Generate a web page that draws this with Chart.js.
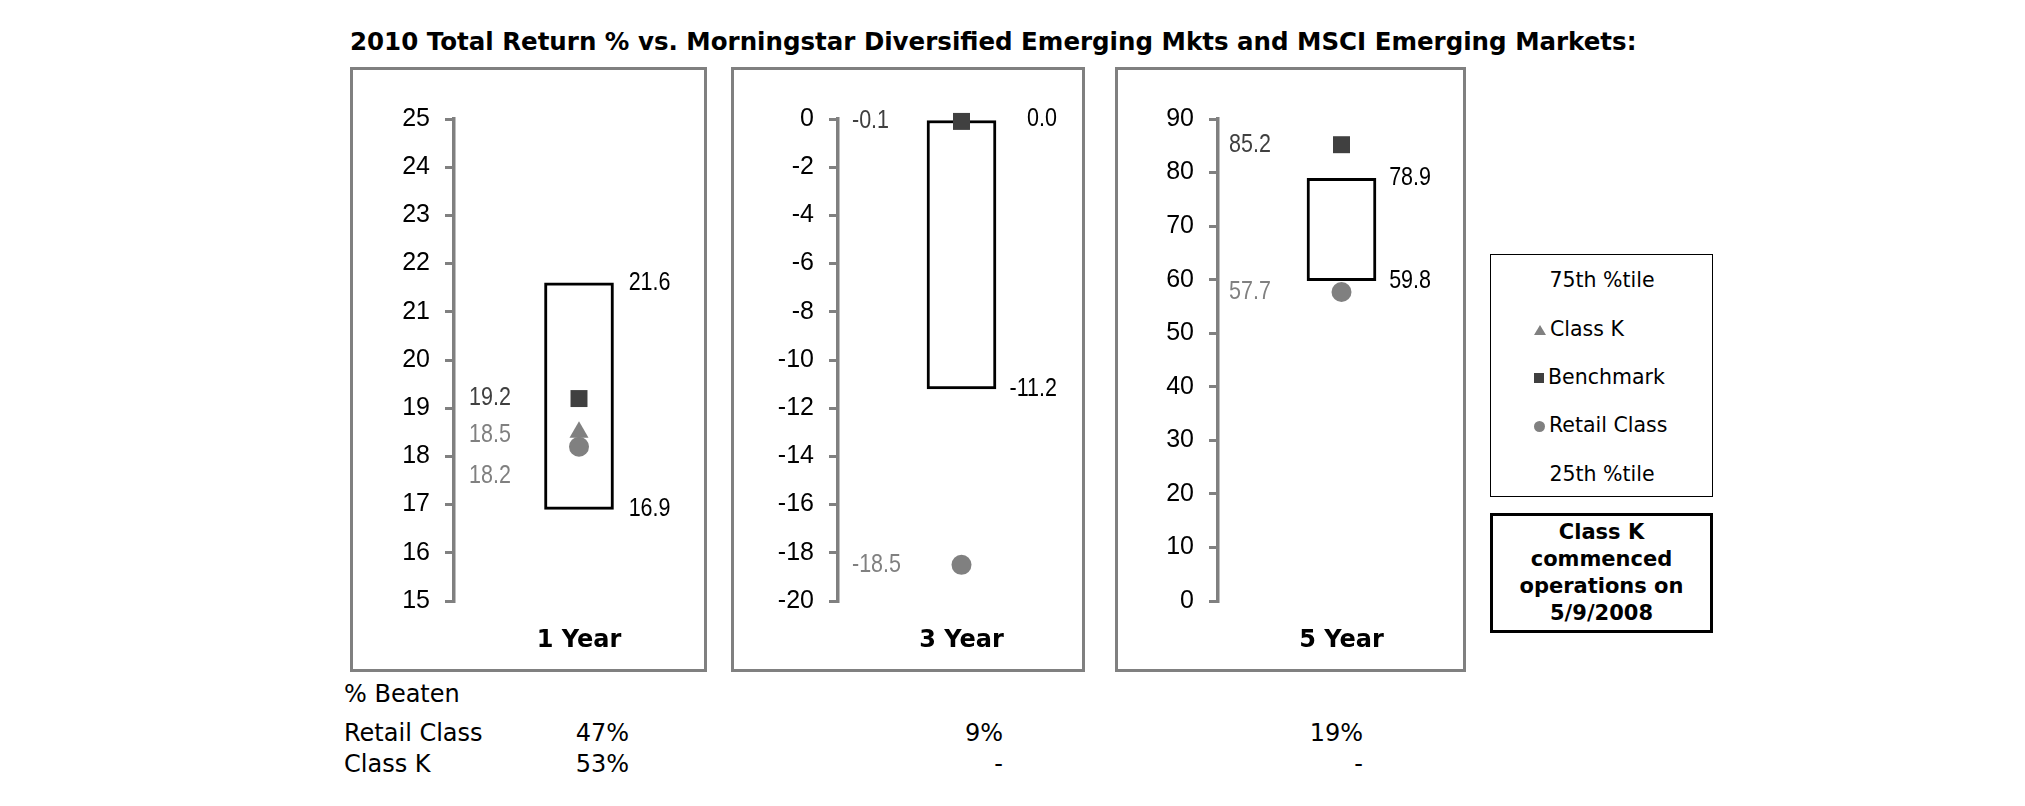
<!DOCTYPE html>
<html>
<head>
<meta charset="utf-8">
<script src="https://cdn.jsdelivr.net/npm/chart.js@4.4.1/dist/chart.umd.min.js"></script>
<style>
body{margin:0;background:#fff;width:2025px;height:806px;position:relative;overflow:hidden;font-family:"DejaVu Sans",sans-serif;color:#000;}
#title{position:absolute;left:350px;top:27px;font:bold 24.5px "DejaVu Sans";white-space:nowrap;}
.panel{position:absolute;top:67px;height:605px;}
.panel canvas{position:absolute;left:0;top:0;}
.frame{position:absolute;left:0;top:0;bottom:0;border:3px solid #808080;box-sizing:border-box;pointer-events:none;}
#legend{position:absolute;left:1490px;top:254px;width:223px;height:243px;border:1.5px solid #000;box-sizing:border-box;font-size:20.5px;}
#legend div{position:absolute;line-height:24px;white-space:nowrap;}
#legend .mk{display:inline-block;margin-right:4px;vertical-align:middle;}
#note{position:absolute;left:1490px;top:513px;width:223px;height:120px;border:3px solid #000;box-sizing:border-box;font:bold 21px/27px "DejaVu Sans";text-align:center;padding-top:3px;}
.tb{position:absolute;font-size:24px;line-height:26px;white-space:nowrap;}
</style>
</head>
<body>
<div id="title">2010 Total Return % vs. Morningstar Diversified Emerging Mkts and MSCI Emerging Markets:</div>
<div id="panels"></div>
<div id="legend"></div>
<div id="note">Class K<br>commenced<br>operations on<br>5/9/2008</div>
<div id="table"></div>
<script>
// periods and values
const periods = ["1 Year", "3 Year", "5 Year"];
const pct75 = [21.6, 0.0, 78.9];
const pct25 = [16.9, -11.2, 59.8];
const benchmark = [19.2, -0.1, 85.2];
const classK = [18.5, null, null];
const retail = [18.2, -18.5, 57.7];

// y axis ranges
const yMin = [15, -20, 0];
const yMax = [25, 0, 90];
const yStep = [1, 2, 10];

// % beaten table
const beatenRetail = ["47%", "9%", "19%"];
const beatenClassK = ["53%", "-", "-"];

/* layout of the three boxes (frame width, canvas width, y axis width, label offsets) */
const PANELS = [
  {left:350, frame:357, width:366, axis:104, labL:119, labR:57},
  {left:731, frame:354, width:366, axis:107, labL:121, labR:61},
  {left:1115, frame:351, width:362, axis:103, labL:114, labR:55}
];
const DARK = "#404040", GRAY = "#808080";

/* value labels next to the axis and the box (tall, slightly narrow text) */
const valueLabels = {
  id:"valueLabels",
  afterDatasetsDraw(chart, args, opts){
    const ctx = chart.ctx, y = chart.scales.y;
    const metas = chart.getSortedVisibleDatasetMetas();
    const box = metas.find(m=>m.type==="bar").data[0];
    opts.items.forEach(it=>{
      if(it.value==null) return;
      const py = y.getPixelForValue(it.value) + (it.dy||0);
      const left = it.side==="left";
      ctx.save();
      ctx.font = '25px "Liberation Sans"';
      ctx.textBaseline = "middle";
      ctx.fillStyle = it.color;
      ctx.textAlign = left ? "left" : "right";
      ctx.translate(left ? opts.leftX : box.x + box.width/2 + opts.rightGap, py);
      ctx.scale(0.86, 1);
      ctx.fillText(it.value.toFixed(1), 0, 0);
      ctx.restore();
    });
  }
};

const marker = (label, value, style, color, radius) => ({
  type:"line", label, data:[value], showLine:false,
  pointStyle:style, pointRadius:radius, pointHoverRadius:radius,
  pointBackgroundColor:color, pointBorderColor:color, pointBorderWidth:0, clip:false
});

const holder = document.getElementById("panels");
periods.forEach((p,i)=>{
  const cfg = PANELS[i];
  const div = document.createElement("div");
  div.className = "panel";
  div.style.left = cfg.left+"px";
  div.style.width = cfg.width+"px";
  const cv = document.createElement("canvas");
  cv.width = cfg.width; cv.height = 605;
  div.appendChild(cv);
  const fr = document.createElement("div");
  fr.className = "frame";
  fr.style.width = cfg.frame+"px";
  div.appendChild(fr);
  holder.appendChild(div);

  new Chart(cv,{
    type:"bar",
    data:{
      labels:[p],
      datasets:[
        marker("Benchmark", benchmark[i], "rect", DARK, 12),
        marker("Class K", classK[i], "triangle", GRAY, 11),
        marker("Retail Class", retail[i], "circle", GRAY, 10),
        {label:"25th-75th %tile", data:[[pct25[i], pct75[i]]], backgroundColor:"#fff",
         borderColor:"#000", borderWidth:3, borderSkipped:false, barThickness:69, clip:false}
      ]
    },
    options:{
      responsive:false, animation:false,
      layout:{padding:{top:52, right:0, bottom:0, left:0}},
      plugins:{
        legend:{display:false}, tooltip:{enabled:false},
        valueLabels:{leftX:cfg.labL, rightGap:cfg.labR, items:[
          {value:benchmark[i], side:"left", color:DARK},
          {value:classK[i], side:"left", color:GRAY, dy:3},
          {value:retail[i], side:"left", color:GRAY, dy:i===0?29:0},
          {value:pct75[i], side:"right", color:"#000"},
          {value:pct25[i], side:"right", color:"#000"}
        ]}
      },
      scales:{
        x:{
          grid:{display:false, drawTicks:false}, border:{display:false},
          ticks:{color:"#000", font:{family:"DejaVu Sans", size:24, weight:"bold"}, padding:25, maxRotation:0},
          afterFit(s){ s.height = 71; }
        },
        y:{
          min:yMin[i], max:yMax[i],
          ticks:{stepSize:yStep[i], color:"#000", font:{family:"Liberation Sans", size:25}, padding:15},
          grid:{drawOnChartArea:false, drawTicks:true, tickLength:9, color:GRAY, lineWidth:3},
          border:{display:true, color:GRAY, width:3.5},
          afterFit(s){ s.width = cfg.axis; }
        }
      }
    },
    plugins:[valueLabels]
  });
});

/* legend */
const legend = document.getElementById("legend");
const legendRows = [
  {text:"75th %tile", top:13, center:true},
  {text:"Class K", top:62, mk:"tri"},
  {text:"Benchmark", top:110, mk:"sq"},
  {text:"Retail Class", top:158, mk:"dot"},
  {text:"25th %tile", top:207, center:true}
];
legendRows.forEach(r=>{
  const d = document.createElement("div");
  d.style.top = r.top+"px";
  if(r.center){ d.style.left="0"; d.style.width="222px"; d.style.textAlign="center"; d.textContent=r.text; }
  else{
    d.style.left = "43px";
    let m;
    if(r.mk==="tri") m='<span class="mk" style="width:0;height:0;border-left:6px solid transparent;border-right:6px solid transparent;border-bottom:10px solid '+GRAY+'"></span>';
    if(r.mk==="sq") m='<span class="mk" style="width:10px;height:10px;background:'+DARK+'"></span>';
    if(r.mk==="dot") m='<span class="mk" style="width:11px;height:11px;border-radius:50%;background:'+GRAY+'"></span>';
    d.innerHTML = m + r.text;
  }
  legend.appendChild(d);
});

/* % beaten table */
const table = document.getElementById("table");
const cell = (txt, left, right, cy) => {
  const d = document.createElement("div");
  d.className = "tb";
  d.textContent = txt;
  d.style.top = (cy-13)+"px";
  if(right!=null){ d.style.right = (2025-right)+"px"; } else d.style.left = left+"px";
  table.appendChild(d);
};
const colRight = [629, 1003, 1363];
cell("% Beaten", 344, null, 694);
cell("Retail Class", 344, null, 733);
cell("Class K", 344, null, 764);
periods.forEach((p,i)=>{
  cell(beatenRetail[i], null, colRight[i], 733);
  cell(beatenClassK[i], null, colRight[i], 764);
});
</script>
</body>
</html>
